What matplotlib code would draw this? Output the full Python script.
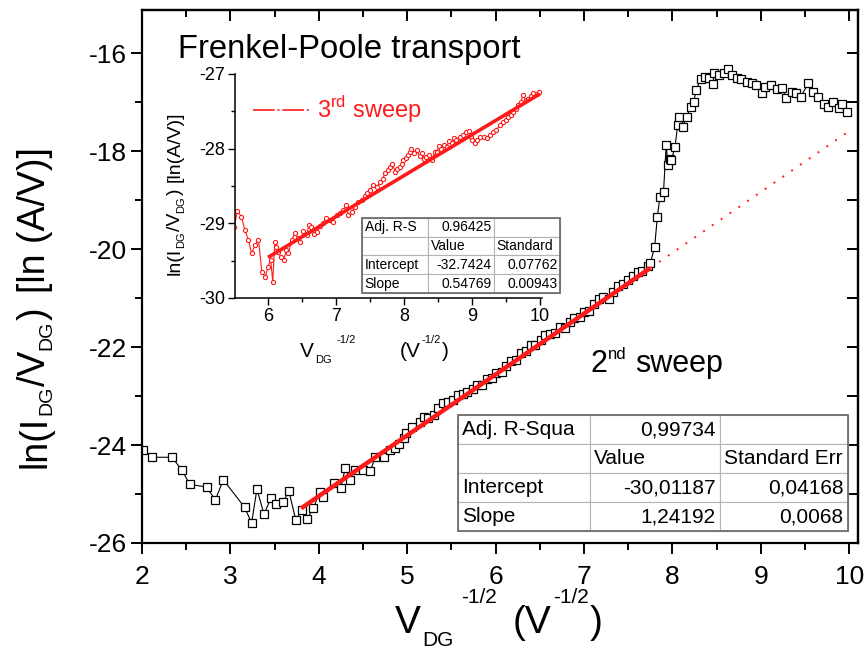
import numpy as np
import matplotlib
matplotlib.use("Agg")
import matplotlib.pyplot as plt
from matplotlib.table import Table
from matplotlib.lines import Line2D
from matplotlib.patches import Rectangle
from matplotlib.ticker import MultipleLocator


# ============================================================
# DATA
# ============================================================

# 2nd sweep, main panel
SWEEP2_X = [
    2.01, 2.11, 2.34, 2.45, 2.54, 2.73, 2.83, 2.92, 3.16, 3.24, 3.30, 3.38,
    3.46, 3.52, 3.60, 3.66, 3.74, 3.81, 3.87, 3.94, 4.01, 4.05, 4.17, 4.25,
    4.30, 4.35, 4.41, 4.50, 4.58, 4.64, 4.74, 4.81, 4.86, 4.91, 4.96, 4.99,
    5.05, 5.14, 5.19, 5.24, 5.30, 5.35, 5.41, 5.46, 5.52, 5.57, 5.63, 5.68,
    5.74, 5.79, 5.85, 5.90, 5.96, 6.01, 6.07, 6.12, 6.18, 6.23, 6.29, 6.34,
    6.40, 6.45, 6.51, 6.56, 6.62, 6.67, 6.73, 6.78, 6.84, 6.89, 6.95, 7.00,
    7.06, 7.11, 7.17, 7.22, 7.28, 7.33, 7.39, 7.44, 7.50, 7.55, 7.61, 7.66,
    7.72, 7.75, 7.80, 7.83, 7.86, 7.90, 7.93, 7.95, 7.97, 7.99, 8.03, 8.06,
    8.07, 8.12, 8.16, 8.21, 8.24, 8.27, 8.32, 8.37, 8.42, 8.46, 8.47, 8.53,
    8.58, 8.63, 8.67, 8.73, 8.78, 8.84, 8.90, 8.95, 9.01, 9.05, 9.12, 9.18,
    9.24, 9.29, 9.35, 9.40, 9.45, 9.54, 9.59, 9.65, 9.71, 9.76, 9.82, 9.88,
    9.92, 9.97,
]
SWEEP2_Y = [
    -24.10, -24.25, -24.25, -24.51, -24.80, -24.86, -25.12, -24.71, -25.27, -25.59, -24.90, -25.41,
    -25.08, -25.20, -25.17, -24.93, -25.53, -25.33, -25.50, -25.29, -24.95, -25.07, -24.78, -24.88,
    -24.46, -24.71, -24.50, -24.51, -24.54, -24.24, -24.25, -24.10, -24.07, -23.97, -23.86, -23.75,
    -23.63, -23.52, -23.42, -23.44, -23.38, -23.25, -23.14, -23.13, -23.08, -22.98, -22.96, -22.92,
    -22.86, -22.77, -22.77, -22.66, -22.64, -22.53, -22.51, -22.38, -22.28, -22.26, -22.13, -22.09,
    -21.96, -21.96, -21.85, -21.75, -21.74, -21.71, -21.59, -21.61, -21.49, -21.41, -21.38, -21.28,
    -21.27, -21.12, -21.01, -20.97, -21.02, -20.88, -20.76, -20.72, -20.64, -20.56, -20.46, -20.44,
    -20.35, -20.29, -19.95, -19.34, -18.93, -18.83, -17.87, -18.29, -18.16, -18.18, -17.91, -17.47,
    -17.30, -17.50, -17.30, -17.10, -17.00, -16.75, -16.53, -16.49, -16.50, -16.64, -16.40, -16.45,
    -16.40, -16.33, -16.45, -16.50, -16.53, -16.58, -16.60, -16.65, -16.82, -16.69, -16.65, -16.74,
    -16.72, -16.92, -16.79, -16.82, -16.89, -16.62, -16.79, -16.89, -17.03, -17.10, -16.99, -17.13,
    -17.03, -17.20,
]

# 3rd sweep, inset
SWEEP3_X = [
    5.50, 5.55, 5.61, 5.66, 5.71, 5.76, 5.81, 5.86, 5.91, 5.96, 6.00, 6.04,
    6.07, 6.10, 6.12, 6.15, 6.19, 6.23, 6.27, 6.30, 6.35, 6.40, 6.44, 6.47,
    6.52, 6.57, 6.60, 6.64, 6.68, 6.72, 6.77, 6.81, 6.86, 6.91, 6.96, 7.01,
    7.06, 7.11, 7.15, 7.18, 7.23, 7.28, 7.33, 7.38, 7.42, 7.45, 7.50, 7.55,
    7.60, 7.65, 7.69, 7.72, 7.76, 7.79, 7.83, 7.87, 7.90, 7.94, 7.97, 7.99,
    8.03, 8.06, 8.09, 8.11, 8.15, 8.19, 8.23, 8.26, 8.30, 8.33, 8.37, 8.41,
    8.45, 8.48, 8.52, 8.55, 8.59, 8.63, 8.66, 8.70, 8.74, 8.77, 8.82, 8.87,
    8.91, 8.95, 8.98, 9.00, 9.04, 9.07, 9.12, 9.17, 9.22, 9.26, 9.31, 9.36,
    9.41, 9.46, 9.50, 9.53, 9.57, 9.61, 9.65, 9.68, 9.72, 9.75, 9.79, 9.83,
    9.87, 9.90, 9.95, 9.99,
]
SWEEP3_Y = [
    -29.05, -28.84, -28.91, -29.09, -29.22, -29.40, -29.29, -29.22, -29.65, -29.72, -29.58, -29.49,
    -29.78, -29.25, -29.32, -29.38, -29.45, -29.49, -29.36, -29.40, -29.22, -29.13, -29.20, -29.25,
    -29.10, -29.16, -29.02, -29.05, -29.14, -29.11, -29.04, -29.00, -28.93, -28.96, -28.98, -28.89,
    -28.86, -28.82, -28.75, -28.89, -28.85, -28.78, -28.72, -28.69, -28.64, -28.60, -28.55, -28.49,
    -28.52, -28.44, -28.40, -28.33, -28.28, -28.24, -28.20, -28.31, -28.27, -28.24, -28.20, -28.15,
    -28.12, -28.09, -28.04, -28.00, -28.06, -28.02, -28.10, -28.06, -28.14, -28.11, -28.08, -28.15,
    -28.05, -28.04, -27.96, -28.00, -27.95, -27.98, -27.90, -27.93, -27.86, -27.88, -27.85, -27.82,
    -27.78, -27.77, -27.84, -27.88, -27.92, -27.88, -27.85, -27.84, -27.86, -27.82, -27.78, -27.75,
    -27.68, -27.64, -27.62, -27.57, -27.55, -27.51, -27.47, -27.42, -27.38, -27.28, -27.35, -27.33,
    -27.29, -27.26, -27.27, -27.24,
]

# Linear fits (values from the fit tables) and fitted ranges
FIT2_INTERCEPT = -30.01187
FIT2_SLOPE = 1.24192
FIT2_RANGE = [3.80, 7.75]
FIT2_EXTRAP = [7.75, 9.98]

FIT3_INTERCEPT = -32.7424
FIT3_SLOPE = 0.54769
FIT3_RANGE = [6.00, 10.00]

# Fit tables
TABLE2_ROWS = [
    ["Adj. R-Squa", "0,99734", ""],
    ["", "Value", "Standard Err"],
    ["Intercept", "-30,01187", "0,04168"],
    ["Slope", "1,24192", "0,0068"],
]
TABLE3_ROWS = [
    ["Adj. R-S", "0.96425", ""],
    ["", "Value", "Standard"],
    ["Intercept", "-32.7424", "0.07762"],
    ["Slope", "0.54769", "0.00943"],
]
TABLE_ALIGN = [
    ["left", "right", "left"],
    ["left", "left", "left"],
    ["left", "right", "right"],
    ["left", "right", "right"],
]

MAIN_TICKS_X = [2, 3, 4, 5, 6, 7, 8, 9, 10]
MAIN_TICKS_Y = [-26, -24, -22, -20, -18, -16]
INSET_TICKS_X = [6, 7, 8, 9, 10]
INSET_TICKS_Y = [-30, -29, -28, -27]


# ============================================================
# CONFIG
# ============================================================

W, H = 867, 655
RED = "#ff1a1a"

plt.rcParams["font.family"] = ["Liberation Sans", "DejaVu Sans"]
plt.rcParams["mathtext.fontset"] = "custom"
plt.rcParams["mathtext.rm"] = "Liberation Sans"
plt.rcParams["axes.unicode_minus"] = False


def px_axes(left, top, right, bottom):
    """Axes rectangle from pixel coordinates (origin top-left)."""
    return [left / W, 1 - bottom / H, (right - left) / W, (bottom - top) / H]


def draw_pieces(fig, x, y, pieces, rotation=0):
    """
    Writes a label made of several pieces (text, size, baseline shift, gap)
    starting at pixel (x, y) on the baseline.
    """
    renderer = fig.canvas.get_renderer()
    pos = 0.0
    for text, size, shift, gap in pieces:
        pos += gap
        if rotation == 0:
            px, py = x + pos, y - shift
        else:
            px, py = x - shift, y - pos
        t = fig.text(px / W, 1 - py / H, text, fontsize=size,
                     ha="left", va="baseline", rotation_mode="anchor")
        pos += t.get_window_extent(renderer).width
        t.set_rotation(rotation)


def fit_table(ax, rows, bbox, col_widths, fontsize, pad):
    table = Table(ax, bbox=bbox)
    for r, row in enumerate(rows):
        for c, text in enumerate(row):
            cell = table.add_cell(r, c, col_widths[c], 1.0 / len(rows),
                                  text=text, loc=TABLE_ALIGN[r][c])
            cell.PAD = pad
            cell.set_edgecolor("#b4b4b4")
            cell.set_linewidth(0.8)
    table.auto_set_font_size(False)
    table.set_fontsize(fontsize)
    table.set_zorder(5)
    ax.add_table(table)
    ax.add_patch(Rectangle((bbox[0], bbox[1]), bbox[2], bbox[3],
                           transform=ax.transAxes, fill=False,
                           edgecolor="#6e6e6e", linewidth=1.3,
                           zorder=6, clip_on=False))


# ============================================================
# FIGURE
# ============================================================

fig = plt.figure(figsize=(W / 100, H / 100), dpi=100)

# ---------------- main panel ----------------
ax = fig.add_axes(px_axes(142, 10, 858, 543))

ax.plot(SWEEP2_X, SWEEP2_Y, color="black", linewidth=0.8, marker="s",
        markersize=5.5, markerfacecolor="white", markeredgecolor="black",
        markeredgewidth=0.9, zorder=2)

fx = np.array(FIT2_RANGE)
ax.plot(fx, FIT2_INTERCEPT + FIT2_SLOPE * fx, color=RED, linewidth=3.2,
        solid_capstyle="butt", zorder=3)
ex = np.array(FIT2_EXTRAP)
ax.plot(ex, FIT2_INTERCEPT + FIT2_SLOPE * ex, color=RED, linewidth=1.4,
        linestyle=(0, (1, 4.5)), zorder=3)

ax.set_xlim(2, 10.1)
ax.set_ylim(-26, -15.12)
ax.set_xticks(MAIN_TICKS_X)
ax.set_yticks(MAIN_TICKS_Y)
ax.xaxis.set_minor_locator(MultipleLocator(0.5))
ax.yaxis.set_minor_locator(MultipleLocator(1))
ax.tick_params(which="both", direction="out", width=1.4, labelsize=19)
ax.tick_params(which="major", length=8)
ax.tick_params(which="minor", length=5)
ax.tick_params(axis="x", pad=8)
ax.tick_params(axis="y", pad=3)
for s in ax.spines.values():
    s.set_linewidth(1.6)

top = ax.secondary_xaxis("top")
top.set_xticks(MAIN_TICKS_X)
top.xaxis.set_minor_locator(MultipleLocator(0.5))
top.tick_params(which="both", direction="in", width=1.4, labeltop=False)
top.tick_params(which="major", length=8)
top.tick_params(which="minor", length=5)
top.spines["top"].set_linewidth(1.6)

right = ax.secondary_yaxis("right")
right.set_yticks(MAIN_TICKS_Y)
right.yaxis.set_minor_locator(MultipleLocator(1))
right.tick_params(which="both", direction="in", width=1.4, labelright=False)
right.tick_params(which="major", length=8)
right.tick_params(which="minor", length=8)
right.spines["right"].set_linewidth(1.6)

fit_table(ax, TABLE2_ROWS, [0.441, 0.0225, 0.545, 0.2176],
          [132, 130, 128], 15, 0.035)

# ---------------- inset ----------------
ins = fig.add_axes(px_axes(235, 74, 542, 298))
ins.patch.set_alpha(0)

ins.plot(SWEEP3_X, SWEEP3_Y, color=RED, linewidth=0.8, marker="o",
         markersize=3, markerfacecolor="white",
         markeredgecolor=RED, markeredgewidth=0.8, zorder=2)
fx3 = np.array(FIT3_RANGE)
ins.plot(fx3, FIT3_INTERCEPT + FIT3_SLOPE * fx3, color=RED, linewidth=2.6,
         solid_capstyle="butt", zorder=3)

ins.set_xlim(5.515, 10.03)
ins.set_ylim(-30, -27)
ins.set_xticks(INSET_TICKS_X)
ins.set_yticks(INSET_TICKS_Y)
ins.xaxis.set_minor_locator(MultipleLocator(0.5))
ins.yaxis.set_minor_locator(MultipleLocator(0.5))
ins.tick_params(which="both", direction="out", width=1.0, labelsize=13)
ins.tick_params(which="major", length=5)
ins.tick_params(which="minor", length=3)
ins.tick_params(axis="x", pad=2)
ins.tick_params(axis="y", pad=2)
ins.spines["top"].set_visible(False)
ins.spines["right"].set_visible(False)
for side in ["left", "bottom"]:
    ins.spines[side].set_linewidth(1.1)

legend_handle = Line2D([], [], color=RED, linewidth=1.2,
                       linestyle=(0, (13, 1.7, 1.2, 1.7)))
ins.legend([legend_handle], ["3$^{\\mathrm{rd}}$ sweep"], loc="center left",
           bbox_to_anchor=(0.058, 0.84), frameon=False, fontsize=17,
           handlelength=2.4, handletextpad=0.3, borderpad=0,
           borderaxespad=0, labelcolor=RED)

fit_table(ins, TABLE3_ROWS, [0.4137, 0.0223, 0.645, 0.335],
          [1, 1, 1], 10, 0.04)

# ---------------- texts ----------------
fig.text(178 / W, 1 - 58 / H, "Frenkel-Poole transport", fontsize=23.6,
         ha="left", va="baseline")

draw_pieces(fig, 590, 372, [("2", 22, 0, 0), ("nd", 12, 13, 1),
                            ("sweep", 22, 0, 9)])

# main axis titles
draw_pieces(fig, 45, 468, [("ln(I", 27, 0, 0), ("DG", 14, -6, 1),
                           ("/V", 27, 0, 0), ("DG", 14, -6, 0),
                           (")", 27, 0, 1), ("[ln (A/V)]", 27, 0, 14)],
            rotation=90)
draw_pieces(fig, 395, 633, [("V", 28, 0, 0), ("DG", 15, -13, 1),
                            ("-1/2", 15, 30, 8)])
draw_pieces(fig, 513, 633, [("(V", 28, 0, 0), ("-1/2", 15, 30, 1),
                            (")", 28, 0, 1)])

# inset axis titles
draw_pieces(fig, 180, 275, [("ln(I", 14, 0, 0), ("DG", 8, -4, 0),
                            ("/V", 14, 0, 0), ("DG", 8, -4, 0),
                            (")", 14, 0, 1), ("[ln(A/V)]", 14, 0, 7)],
            rotation=90)
draw_pieces(fig, 300, 357, [("V", 15, 0, 0), ("DG", 8, -6, 1),
                            ("-1/2", 8, 14, 5)])
draw_pieces(fig, 400, 357, [("(V", 15, 0, 0), ("-1/2", 8, 14, 1),
                            (")", 15, 0, 1)])

fig.savefig("out.png", dpi=100)
